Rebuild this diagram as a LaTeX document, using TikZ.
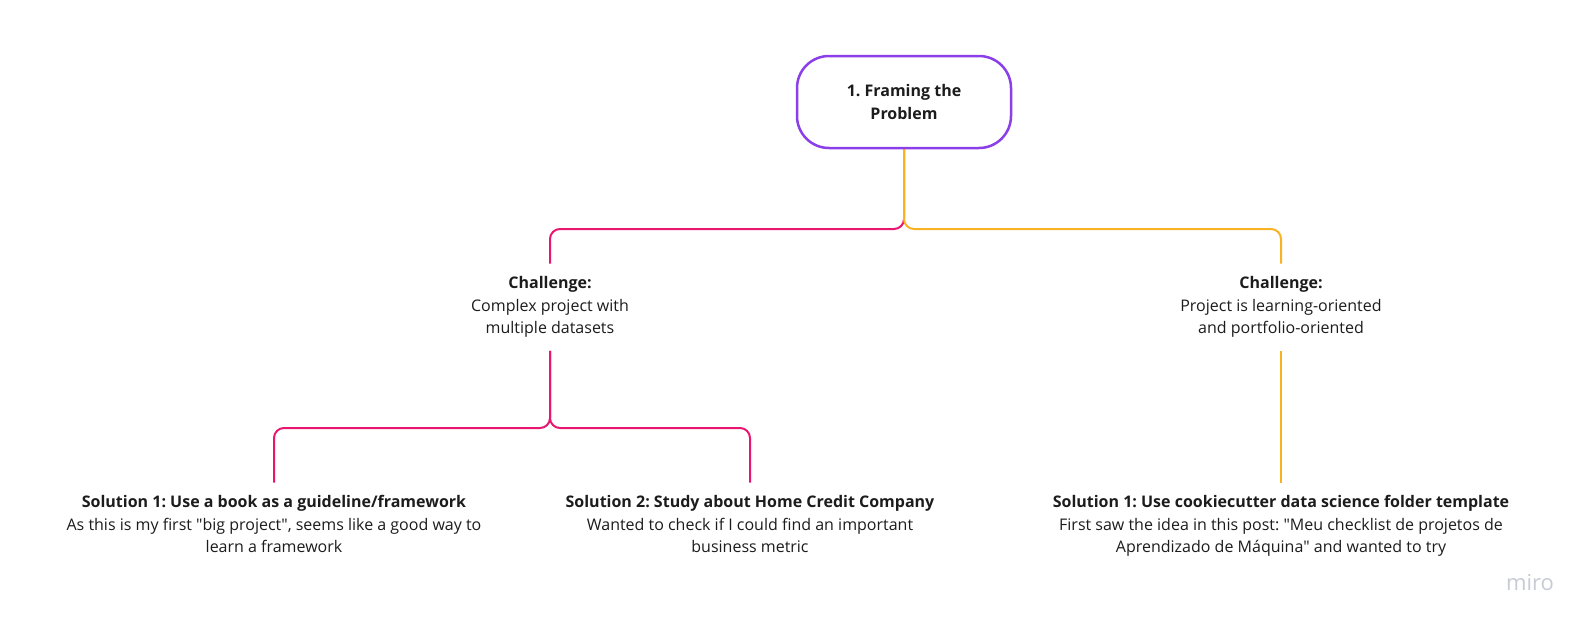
\documentclass[tikz,border=0pt]{standalone}
\usepackage{fontspec}
\setmainfont{Open Sans}
\frenchspacing
\definecolor{framepurple}{HTML}{8A3FE8}
\definecolor{branchpink}{HTML}{E8166E}
\definecolor{branchorange}{HTML}{F9B224}
\definecolor{textdark}{HTML}{1C1C1C}
\definecolor{logogray}{HTML}{C8CAD4}
\begin{document}
\begin{tikzpicture}[
    x=1pt, y=-1pt,
    every node/.style={font=\fontsize{16}{22.5}\selectfont, text=textdark, align=center},
    topic/.style={draw=framepurple, line width=2.5pt, rounded corners=32pt,
      minimum width=214pt, minimum height=92pt, font=\fontsize{16}{22.5}\selectfont\bfseries},
    leaf/.style={anchor=north, inner xsep=0pt, inner ysep=13pt},
    pinkline/.style={draw=branchpink, line width=2pt, rounded corners=10pt},
    orangeline/.style={draw=branchorange, line width=2pt, rounded corners=10pt}
    ]
    \useasboundingbox (0,0) rectangle (1593,627);

    \node[topic] (frame) at (904,102) {1. Framing the\\Problem};

    \node[leaf] (chL) at (550,263.5) {\textbf{Challenge:}\\Complex project with\\multiple datasets};
    \node[leaf] (chR) at (1281,263.5) {\textbf{Challenge:}\\Project is learning-oriented\\and portfolio-oriented};

    \node[leaf] (solA) at (274,482.5) {\textbf{Solution 1: Use a book as a guideline/framework}\\As this is my first \textquotedbl big project\textquotedbl, seems like a good way to\\learn a framework};
    \node[leaf] (solB) at (750,482.5) {\textbf{Solution 2: Study about Home Credit Company}\\Wanted to check if I could find an important\\business metric};
    \node[leaf] (solC) at (1281,482.5) {\textbf{Solution 1: Use cookiecutter data science folder template}\\First saw the idea in this post: \textquotedbl Meu checklist de projetos de\\Aprendizado de Máquina\textquotedbl{} and wanted to try};

    \node[anchor=base, inner sep=0pt, text=logogray, font=\fontsize{22}{22}\selectfont] (logo) at (1530,590) {miro};

    \coordinate (split) at (904,229);
    \coordinate (splitL) at (550,428);

    % branches
    \draw[pinkline] (frame.south) -- (split) -| (chL.north);
    \draw[orangeline] (frame.south) -- (split) -| (chR.north);
    \draw[pinkline] (chL.south) -- (splitL) -| (solA.north);
    \draw[pinkline] (chL.south) -- (splitL) -| (solB.north);
    \draw[orangeline] (chR.south) -- (solC.north);

\end{tikzpicture}
\end{document}
